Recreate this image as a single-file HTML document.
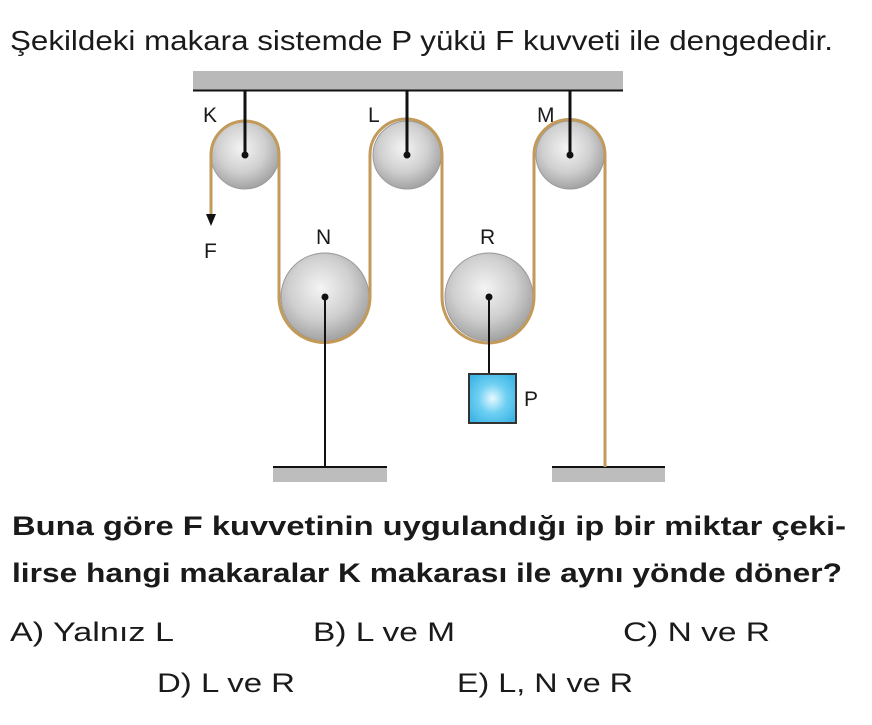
<!DOCTYPE html>
<html><head><meta charset="utf-8"><style>
html,body{margin:0;padding:0;background:#fff;}
svg{display:block;}
text{font-family:"Liberation Sans",sans-serif;fill:#1a1a1a;}
</style></head><body>
<svg width="872" height="725" viewBox="0 0 872 725" xmlns="http://www.w3.org/2000/svg">
<defs>
<radialGradient id="pg" cx="0.45" cy="0.4" r="0.65">
<stop offset="0" stop-color="#f4f4f4"/><stop offset="0.55" stop-color="#cfcfcf"/><stop offset="1" stop-color="#9a9a9a"/>
</radialGradient>
<radialGradient id="bg" cx="0.5" cy="0.5" r="0.6">
<stop offset="0" stop-color="#e8f8ff"/><stop offset="0.5" stop-color="#6fd0f2"/><stop offset="1" stop-color="#3fb6e6"/>
</radialGradient>
</defs>
<text x="10" y="50" font-size="28" textLength="823" lengthAdjust="spacingAndGlyphs">Şekildeki makara sistemde P yükü F kuvveti ile dengededir.</text>

<!-- ceiling -->
<rect x="193" y="71" width="430" height="19" fill="#b9b9b9"/>
<line x1="193" y1="90.5" x2="623" y2="90.5" stroke="#111" stroke-width="2"/>
<!-- floors -->
<rect x="273" y="467" width="114" height="15" fill="#bdbdbd"/>
<line x1="273" y1="467" x2="387" y2="467" stroke="#111" stroke-width="2"/>
<rect x="552" y="467" width="113" height="15" fill="#bdbdbd"/>
<line x1="552" y1="467" x2="665" y2="467" stroke="#111" stroke-width="2"/>

<!-- pulleys -->
<g stroke="#9a9a9a" stroke-width="1">
<circle cx="245" cy="155" r="34" fill="url(#pg)"/>
<circle cx="407" cy="155" r="34" fill="url(#pg)"/>
<circle cx="570" cy="155" r="34" fill="url(#pg)"/>
<circle cx="325" cy="297" r="44" fill="url(#pg)"/>
<circle cx="489" cy="297" r="44" fill="url(#pg)"/>
</g>
<!-- rope -->
<path d="M211 218 V155 A34 34 0 0 1 279 155 V297 A45.5 45.5 0 0 0 370 297 V155 A35.5 35.5 0 0 1 442 155 V297 A45.5 45.5 0 0 0 534 297 V155 A35.5 35.5 0 0 1 605 155 V467" fill="none" stroke="#c29a5a" stroke-width="3"/>
<polygon points="206,214 216,214 211,226" fill="#111"/>

<!-- hangers -->
<g stroke="#111" stroke-width="3">
<line x1="245" y1="90" x2="245" y2="155"/>
<line x1="407" y1="90" x2="407" y2="155"/>
<line x1="570" y1="90" x2="570" y2="155"/>
</g>
<g stroke="#111" stroke-width="2">
<line x1="325" y1="297" x2="325" y2="467"/>
<line x1="489" y1="297" x2="489" y2="374"/>
</g>
<g fill="#111">
<circle cx="245" cy="155" r="3.5"/><circle cx="407" cy="155" r="3.5"/><circle cx="570" cy="155" r="3.5"/>
<circle cx="325" cy="297" r="3.5"/><circle cx="489" cy="297" r="3.5"/>
</g>
<rect x="469" y="374" width="47" height="49" fill="url(#bg)" stroke="#333" stroke-width="2"/>

<g font-size="21">
<text x="203" y="122">K</text>
<text x="368" y="122">L</text>
<text x="537" y="122">M</text>
<text x="204" y="258">F</text>
<text x="316" y="244">N</text>
<text x="480" y="244">R</text>
<text x="524" y="406">P</text>
</g>

<g font-size="27" font-weight="bold">
<text x="12" y="535" textLength="834" lengthAdjust="spacingAndGlyphs">Buna göre F kuvvetinin uygulandığı ip bir miktar çeki-</text>
<text x="12" y="582" textLength="830" lengthAdjust="spacingAndGlyphs">lirse hangi makaralar K makarası ile aynı yönde döner?</text>
</g>
<g font-size="27">
<text x="10" y="641" textLength="164" lengthAdjust="spacingAndGlyphs">A) Yalnız L</text>
<text x="313" y="641" textLength="142" lengthAdjust="spacingAndGlyphs">B) L ve M</text>
<text x="623" y="641" textLength="147" lengthAdjust="spacingAndGlyphs">C) N ve R</text>
<text x="157" y="692" textLength="138" lengthAdjust="spacingAndGlyphs">D) L ve R</text>
<text x="457" y="692" textLength="176" lengthAdjust="spacingAndGlyphs">E) L, N ve R</text>
</g>
</svg>
</body></html>
